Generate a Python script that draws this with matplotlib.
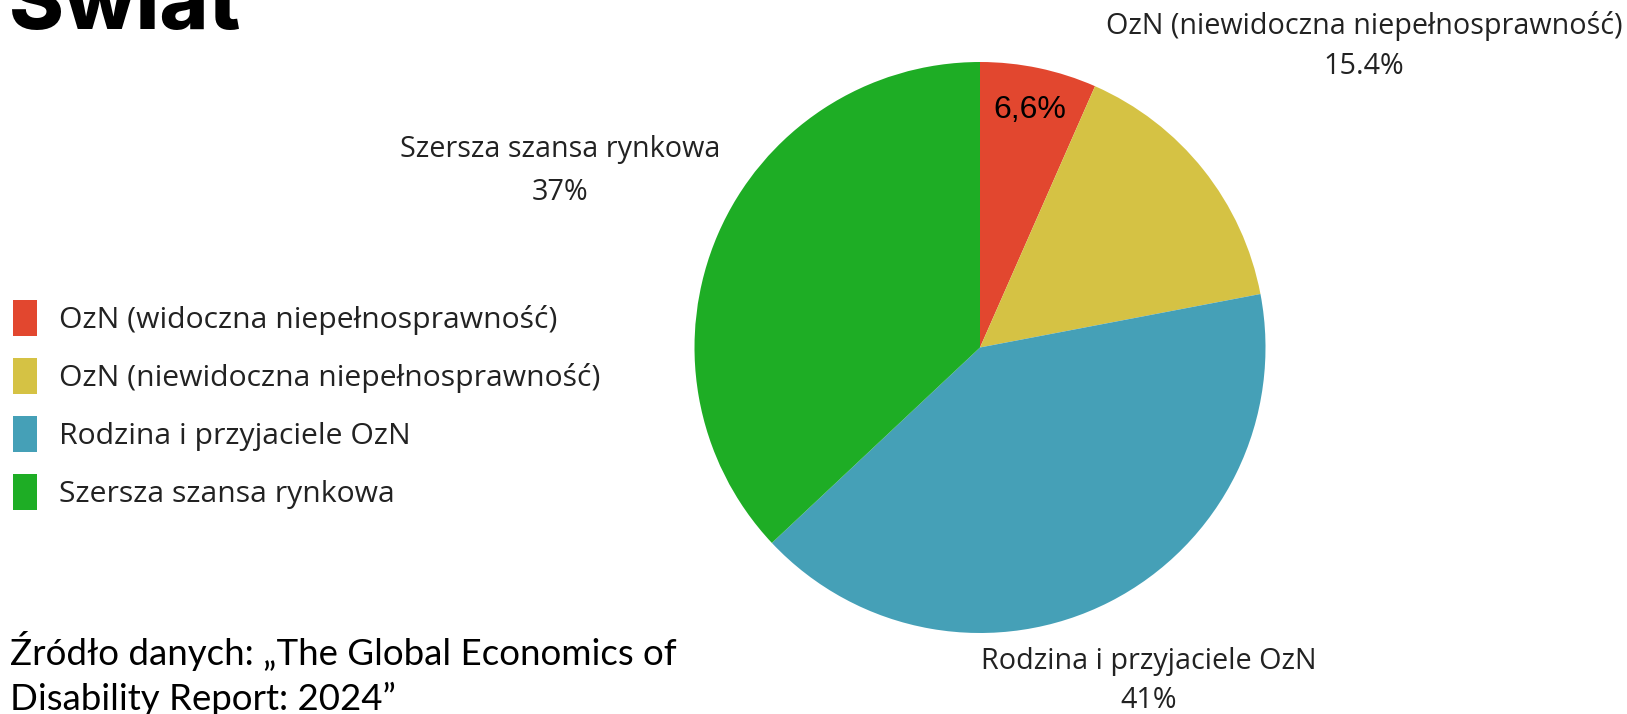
import matplotlib.pyplot as plt
from matplotlib.patches import Patch

# dane
categories = ['OzN (widoczna niepełnosprawność)',
              'OzN (niewidoczna niepełnosprawność)',
              'Rodzina i przyjaciele OzN',
              'Szersza szansa rynkowa']
values = [6.6, 15.4, 41, 37]
value_labels = ['6,6%', '15.4%', '41%', '37%']
colors = ['#E2472F', '#D5C244', '#45A0B7', '#1EAD25']

W, H = 1627, 714
fig = plt.figure(figsize=(W / 100, H / 100), dpi=100)

# polozenie kola w pikselach
cx, cy, r = 980, 347.5, 285.5
ax = fig.add_axes([(cx - r) / W, (H - cy - r) / H, 2 * r / W, 2 * r / H])
wedges, _ = ax.pie(values, colors=colors, startangle=90, counterclock=False,
                   radius=1, wedgeprops=dict(linewidth=0))
ax.set_xlim(-1, 1)
ax.set_ylim(-1, 1)
ax.axis('off')


def px(x, y):
    return x / W, 1 - y / H


lab_font = dict(family='Open Sans', size=20.7, color='#222222', ha='center', va='center')

# etykiety przy wycinkach (nazwa + procent)
fig.text(*px(1030, 110), value_labels[0], family='Liberation Sans', size=23,
         color='black', ha='center', va='center')
fig.text(*px(1364, 26), categories[1], **lab_font)
fig.text(*px(1364, 67), value_labels[1], **lab_font)
fig.text(*px(1149, 662), categories[2], **lab_font)
fig.text(*px(1149, 700), value_labels[2], **lab_font)
fig.text(*px(560, 149), categories[3], **lab_font)
fig.text(*px(560, 193), value_labels[3], **lab_font)

# legenda
handles = [Patch(facecolor=c, edgecolor='none') for c in colors]
leg = fig.legend(handles, categories, loc='upper left', bbox_to_anchor=px(13, 300),
                 frameon=False, prop=dict(family='Open Sans', size=21.7),
                 handlelength=0.78, handleheight=1.45, handletextpad=0.75,
                 labelspacing=0.74, borderaxespad=0, borderpad=0)
for t in leg.get_texts():
    t.set_color('#222222')

# tytul (przyciety u gory)
fig.text(*px(9, 29), 'Świat', family='Inter', weight='heavy', size=60,
         color='black', ha='left', va='baseline')

# zrodlo
fig.text(*px(10, 651), 'Źródło danych: „The Global Economics of', family='Lato',
         size=26.4, color='black', ha='left', va='center')
fig.text(*px(10, 699), 'Disability Report: 2024”', family='Lato',
         size=26.4, color='black', ha='left', va='center')

fig.savefig('out.png', dpi=100, facecolor='white')
